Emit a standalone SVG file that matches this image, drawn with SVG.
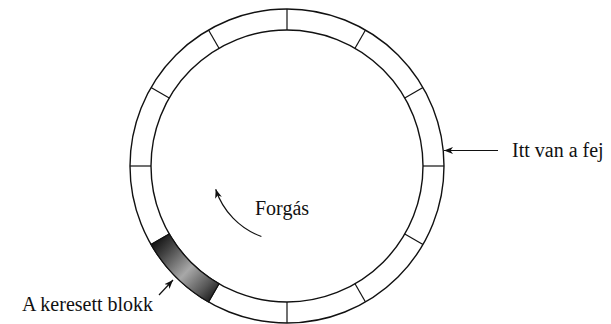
<svg xmlns="http://www.w3.org/2000/svg" width="611" height="324" viewBox="0 0 611 324">
  <style>
    .ring { fill: none; stroke: #111; stroke-width: 1.4; }
    .div { stroke: #111; stroke-width: 1.2; }
    .conn { fill: none; stroke: #111; stroke-width: 1.2; }
    .lbl { font-family: "Liberation Serif", "Times New Roman", serif; font-size: 20px; fill: #111; }
  </style>
  <defs>
    <marker id="ah" markerUnits="userSpaceOnUse" markerWidth="10" markerHeight="8" refX="9" refY="4" orient="auto">
      <path d="M0,0.5 L9,4 L0,7.5 L2.5,4 Z" fill="#111"/>
    </marker>
    <linearGradient id="shade" gradientUnits="userSpaceOnUse" x1="155" y1="240" x2="214" y2="296">
      <stop offset="0" stop-color="#111"/>
      <stop offset="0.2" stop-color="#444"/>
      <stop offset="0.55" stop-color="#a8a8a8"/>
      <stop offset="0.85" stop-color="#555"/>
      <stop offset="1" stop-color="#222"/>
    </linearGradient>
  </defs>

  <g id="disk">
    <circle class="ring" cx="287" cy="166" r="157"/>
    <circle class="ring" cx="287" cy="166" r="136"/>
    <line class="div" x1="444" y1="166" x2="423" y2="166"/>
    <line class="div" x1="422.97" y1="244.5" x2="404.78" y2="234"/>
    <line class="div" x1="365.5" y1="301.97" x2="355" y2="283.78"/>
    <line class="div" x1="287" y1="323" x2="287" y2="302"/>
    <line class="div" x1="208.5" y1="301.97" x2="219" y2="283.78"/>
    <line class="div" x1="151.03" y1="244.5" x2="169.22" y2="234"/>
    <line class="div" x1="130" y1="166" x2="151" y2="166"/>
    <line class="div" x1="151.03" y1="87.5" x2="169.22" y2="98"/>
    <line class="div" x1="208.5" y1="30.03" x2="219" y2="48.22"/>
    <line class="div" x1="287" y1="9" x2="287" y2="30"/>
    <line class="div" x1="365.5" y1="30.03" x2="355" y2="48.22"/>
    <line class="div" x1="422.97" y1="87.5" x2="404.78" y2="98"/>
  </g>

  <g id="block">
    <path d="M208.5,301.97 A157,157 0 0 1 151.03,244.5 L169.22,234 A136,136 0 0 0 219,283.78 Z" fill="url(#shade)" stroke="#111" stroke-width="1.2"/>
  </g>

  <g id="connectors">
    <line class="conn" x1="498" y1="150.5" x2="444" y2="150.5" marker-end="url(#ah)"/>
    <path class="conn" d="M261.4,236.5 A75,75 0 0 1 215.7,189.2" marker-end="url(#ah)"/>
    <line class="conn" x1="159" y1="295" x2="173" y2="280" marker-end="url(#ah)"/>
  </g>

  <g id="label-head">
    <text class="lbl" x="512" y="157">Itt van a fej</text>
  </g>
  <g id="label-rotation">
    <text class="lbl" x="255" y="215">Forgás</text>
  </g>
  <g id="label-block">
    <text class="lbl" x="22" y="311">A keresett blokk</text>
  </g>
</svg>
